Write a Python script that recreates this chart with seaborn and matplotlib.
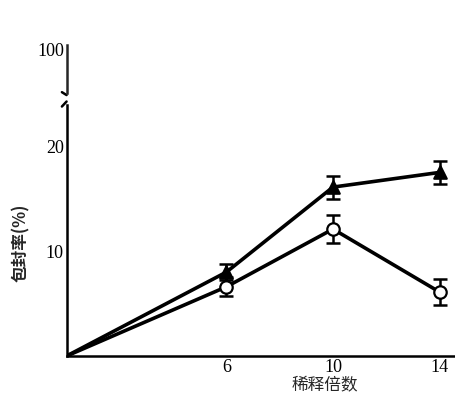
import matplotlib
matplotlib.use("Agg")
import matplotlib.pyplot as plt
import seaborn as sns
import pandas as pd

# dilution factor (0 = origin the lines start from)
dilution = [0, 6, 10, 14]
# encapsulation efficiency (%)
triangle_vals = [0, 8.0, 16.1, 17.5]
triangle_err = [0, 0.8, 1.1, 1.1]
circle_vals = [0, 6.6, 12.1, 6.1]
circle_err = [0, 0.9, 1.3, 1.2]
x_ticks = [6, 10, 14]
y_ticks = [10, 20]
top_tick = [100]

sns.set_style("white")
plt.rcParams["font.family"] = ["Liberation Serif", "Noto Sans CJK SC"]

df = pd.DataFrame({
    "dilution": dilution * 2,
    "rate": triangle_vals + circle_vals,
    "err": triangle_err + circle_err,
    "series": ["tri"] * 4 + ["circ"] * 4,
})

fig = plt.figure(figsize=(4.56, 3.98), dpi=100)
ax = fig.add_axes([0.146, 0.1055, 0.853, 0.630])
ax_top = fig.add_axes([0.146, 0.766, 0.853, 0.121])

sns.lineplot(data=df, x="dilution", y="rate", units="series", estimator=None,
             color="black", linewidth=2.6, ax=ax, legend=False)

pts = df[df["dilution"] > 0]
for name, marker, face in [("tri", "^", "black"), ("circ", "o", "white")]:
    sub = pts[pts["series"] == name]
    ax.errorbar(sub["dilution"], sub["rate"], yerr=sub["err"], fmt="none",
                ecolor="black", elinewidth=1.8, capsize=5, capthick=1.8, zorder=3)
    sns.scatterplot(data=sub, x="dilution", y="rate", marker=marker, s=80,
                    color=face, edgecolor="black", linewidth=1.6, ax=ax,
                    zorder=4, legend=False)

ax.set_xlim(0, 14.6)
ax.set_ylim(0, 23.9)
ax.set_xticks(x_ticks)
ax.set_yticks(y_ticks)
ax.set_xlabel("稀释倍数", fontsize=12, family="Noto Sans CJK SC")
ax.xaxis.set_label_coords(0.665, -0.085)
ax.set_ylabel("包封率(%)", fontsize=12, family="Noto Sans CJK SC",
              fontweight="bold")
ax.yaxis.set_label_coords(-0.095, 0.45)
for s in ["top", "right"]:
    ax.spines[s].set_visible(False)
for s in ["left", "bottom"]:
    ax.spines[s].set_linewidth(1.8)
    ax.spines[s].set_color("black")
ax.tick_params(axis="both", direction="in", length=2, width=1.2, labelsize=13,
               colors="black", pad=2)

ax_top.set_xlim(0, 14.6)
ax_top.set_ylim(90, 101)
ax_top.set_yticks(top_tick)
ax_top.set_xticks([])
for s in ["top", "right", "bottom"]:
    ax_top.spines[s].set_visible(False)
ax_top.spines["left"].set_linewidth(1.8)
ax_top.tick_params(axis="y", direction="in", length=2, width=1.2, labelsize=13,
                   colors="black", pad=2)
ax_top.patch.set_alpha(0)

# axis break marks
ax_top.plot([-0.012, 0.0], [0.02, -0.04], transform=ax_top.transAxes,
            color="black", lw=1.8, clip_on=False)
ax.plot([-0.012, 0.0], [0.995, 1.015], transform=ax.transAxes,
        color="black", lw=1.8, clip_on=False)

fig.savefig("out.png", dpi=100)
